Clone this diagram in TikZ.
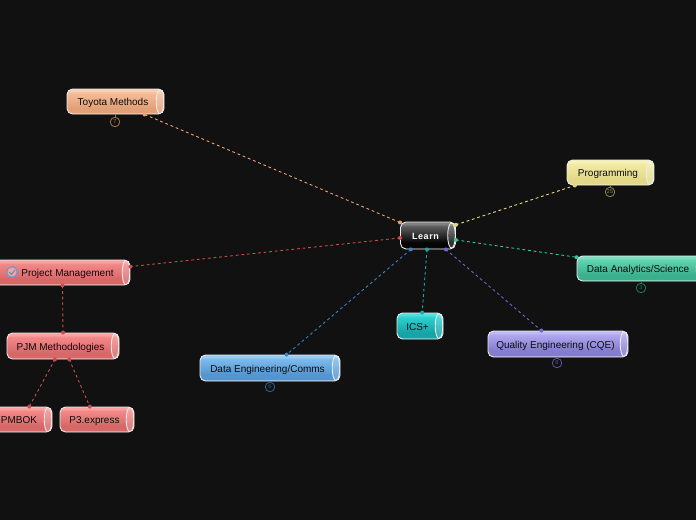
\documentclass[tikz,border=0pt]{standalone}
\usepackage{fontspec}
\setmainfont{Liberation Sans}
\definecolor{bgc}{HTML}{111111}
\newcommand{\defshade}[5]{%
  \pgfdeclareverticalshading{sh#1}{100bp}{%
    color(0bp)=(#5); color(25bp)=(#5); color(29bp)=(#4); color(37bp)=(#4); color(67bp)=(#3); color(71bp)=(#2); color(75bp)=(#2); color(100bp)=(#2)}}
\definecolor{oL}{HTML}{F9D0B2}\definecolor{oM}{HTML}{F5BD98}\definecolor{oD}{HTML}{E2A078}\definecolor{oB}{HTML}{EFB48E}
\definecolor{yL}{HTML}{F6F2B6}\definecolor{yM}{HTML}{F2EBA4}\definecolor{yD}{HTML}{E2D888}\definecolor{yB}{HTML}{EEE79E}
\definecolor{gL}{HTML}{7CE0C0}\definecolor{gM}{HTML}{60D4AE}\definecolor{gD}{HTML}{3CB08E}\definecolor{gB}{HTML}{54CAA4}
\definecolor{rL}{HTML}{F9A2A2}\definecolor{rM}{HTML}{F48888}\definecolor{rD}{HTML}{D66868}\definecolor{rB}{HTML}{EC8080}
\definecolor{bL}{HTML}{98CCF4}\definecolor{bM}{HTML}{7CBAEC}\definecolor{bD}{HTML}{5495D0}\definecolor{bB}{HTML}{72B0E4}
\definecolor{cL}{HTML}{50DEDE}\definecolor{cM}{HTML}{2CD0D0}\definecolor{cD}{HTML}{16A4A6}\definecolor{cB}{HTML}{26C4C4}
\definecolor{pL}{HTML}{BEB8F4}\definecolor{pM}{HTML}{AEA6EE}\definecolor{pD}{HTML}{847CCC}\definecolor{pB}{HTML}{A29AE6}
\definecolor{kL}{HTML}{808080}\definecolor{kM}{HTML}{5C5C5C}\definecolor{kD}{HTML}{050505}\definecolor{kB}{HTML}{262626}
\defshade{o}{oL}{oM}{oD}{oB}
\defshade{y}{yL}{yM}{yD}{yB}
\defshade{g}{gL}{gM}{gD}{gB}
\defshade{r}{rL}{rM}{rD}{rB}
\defshade{b}{bL}{bM}{bD}{bB}
\defshade{c}{cL}{cM}{cD}{cB}
\defshade{p}{pL}{pM}{pD}{pB}
\defshade{k}{kL}{kM}{kD}{kB}
\definecolor{lo}{HTML}{E8A274}\definecolor{ly}{HTML}{E2DA7C}\definecolor{lg}{HTML}{3CC49C}
\definecolor{lr}{HTML}{C84C4C}\definecolor{lb}{HTML}{3E82C4}\definecolor{lc}{HTML}{1CA8AA}\definecolor{lp}{HTML}{7068C8}
\definecolor{tx}{HTML}{0C0C0C}
\tikzset{
  x=1pt,y=-1pt,
  cyl/.style n args={3}{
    rectangle, rounded corners=5.5pt, inner sep=0pt, font=\fontsize{10}{11}\selectfont, text=tx,
    text height=8pt, text depth=0pt,
    minimum width=#1pt, minimum height=#2pt, draw=white!92!black, line width=.9pt, shading=sh#3,
    path picture={\draw[white!92!black,line width=.9pt,fill=white,fill opacity=.18]
      ([xshift=-4pt]path picture bounding box.east) ellipse (3.8pt and 12.6pt);}},
  link/.style={dash pattern=on 2.8pt off 2.8pt,line width=.9pt,draw=#1},
  badge/.style={circle,draw=#1,line width=.8pt,inner sep=0pt,minimum size=9.5pt,text=#1,font=\fontsize{5.5}{6}\selectfont},
  stem/.style={draw=#1,line width=.8pt},
}
\newcommand{\sh}[1]{\hspace*{-5pt}#1}
\newcommand{\lnk}[3]{\draw[link=#1] (#2) -- (#3); \fill[#1] (#2) circle (2) (#3) circle (2);}
\begin{document}
\begin{tikzpicture}
\useasboundingbox (0,0) rectangle (696,520);
\fill[bgc] (0,0) rectangle (696,520);
\clip (0,0) rectangle (696,520);
\node[cyl={55}{27}{k},text=white,font=\fontsize{9}{10}\selectfont\bfseries\addfontfeatures{LetterSpace=6}] (learn) at (428,235.5) {\sh{Learn}};
\node[cyl={97}{25}{o}] (toyota) at (115.5,101.5) {\sh{Toyota Methods}};
\node[cyl={87}{25}{y}] (prog) at (610.5,172.5) {\sh{Programming}};
\node[cyl={127}{25}{g}] (da) at (640.5,268.5) {\sh{Data Analytics/Science}};
\node[cyl={135}{25}{r}] (pm) at (62.5,272.5) {\hspace*{10pt}Project Management};
\node[cyl={112}{26}{r}] (pjm) at (63,346) {\sh{PJM Methodologies}};
\node[cyl={61}{25}{r}] (pmbok) at (21.5,419.5) {\sh{PMBOK}};
\node[cyl={74}{25}{r}] (p3) at (97,419.5) {\sh{P3.express}};
\node[cyl={140}{26}{b}] (de) at (270,368) {\sh{Data Engineering/Comms}};
\node[cyl={46}{26}{c}] (ics) at (420,326) {\sh{ICS+}};
\node[cyl={140}{26}{p}] (qe) at (558,344) {\sh{Quality Engineering (CQE)}};

\lnk{lo}{learn.155}{toyota.-24}
\lnk{ly}{learn.21}{prog.200}
\lnk{lg}{learn.-9.5}{da.170.6}
\lnk{lp}{learn.-38.5}{qe.141}
\lnk{lc}{learn.-94}{ics.81}
\lnk{lb}{learn.-141.5}{de.39}
\lnk{lr}{learn.185.3}{pm.5.4}
\lnk{lr}{pm.south}{pjm.north}
\lnk{lr}{pjm.-121.6}{pmbok.59}
\lnk{lr}{pjm.-65.2}{p3.119}

\node[badge=lo!70!black] (bt) at (115,122) {7};
\node[badge=ly!60!black] (bp) at (610,192) {25};
\node[badge=lg!60!black] (bd) at (641,288) {3};
\node[badge=lb!75!black] (be) at (270,387) {6};
\node[badge=lp!80!black] (bq) at (557,363) {8};
\draw[stem=lo!70!black] (toyota.south -| bt) -- (bt);
\draw[stem=ly!60!black] (prog.south -| bp) -- (bp);
\draw[stem=lg!60!black] (da.south -| bd) -- (bd);
\draw[stem=lb!75!black] (de.south -| be) -- (be);
\draw[stem=lp!80!black] (qe.south -| bq) -- (bq);

% status icon on Project Management
\draw[draw=lb!80!white,fill=rL,line width=1.2pt] (12,272) circle (5.3);
\draw[lb!90!white,line width=1pt] (9.2,272) -- (11.4,274.4) -- (15,270);
\end{tikzpicture}
\end{document}
